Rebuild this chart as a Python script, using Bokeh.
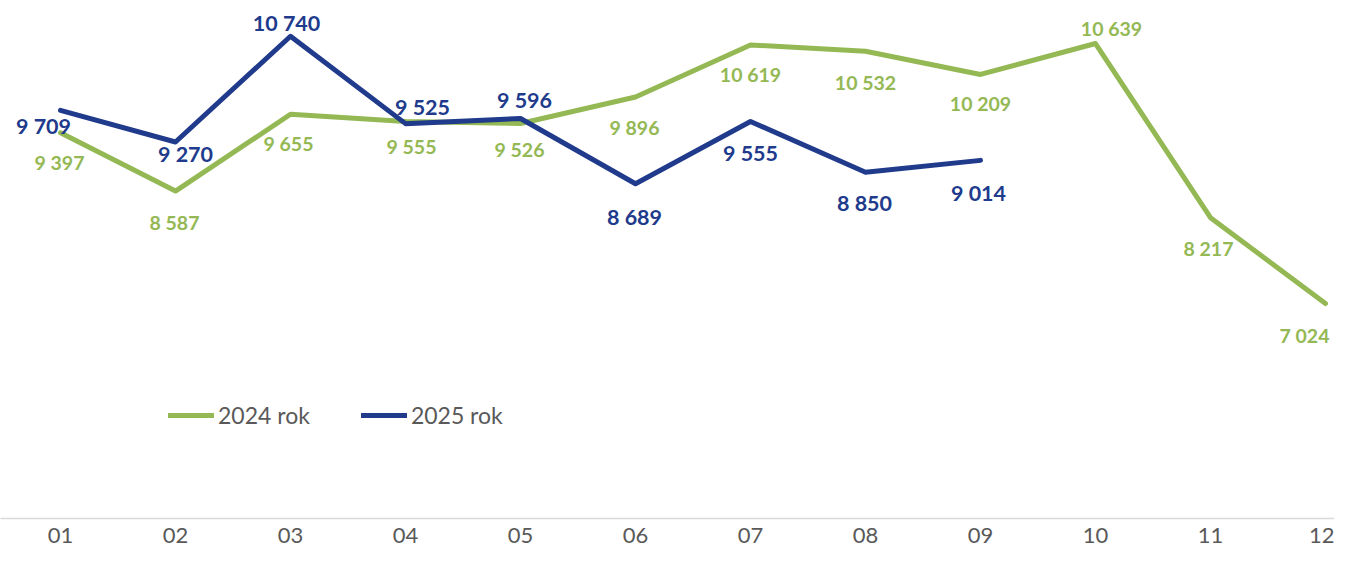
from bokeh.plotting import figure
from bokeh.models import Range1d, FixedTicker, Legend, LegendItem, ColumnDataSource
from bokeh.core.properties import value
from bokeh.embed import file_html
from bokeh.resources import INLINE

# ---- data ----
MONTHS = ["01", "02", "03", "04", "05", "06", "07", "08", "09", "10", "11", "12"]
SERIES_2024 = [9397, 8587, 9655, 9555, 9526, 9896, 10619, 10532, 10209, 10639, 8217, 7024]
SERIES_2025 = [9709, 9270, 10740, 9525, 9596, 8689, 9555, 8850, 9014]
SERIES_NAMES = ["2024 rok", "2025 rok"]

# ---- label placement (screen px offsets) ----
DX_2024 = [-1, -1, -2, 6, -1, -1, 0, 0, 0, 16, -2, -21]
DY_2024 = [30, 31, 29, 25, 26, 31, 30, 31, 29, -15, 31, 32]
DX_2025 = [-17, 10, -4, 17, 4, -1, 0, -1, -2]
DY_2025 = [16, 12, -13, -17, -19, 33, 32, 31, 33]

GREEN = "#94B853"
BLUE = "#203A8C"
GREY = "#595959"
FONT = "Lato"


def fmt(v):
    return f"{v:,}".replace(",", " ")


x24 = list(range(1, len(SERIES_2024) + 1))
x25 = list(range(1, len(SERIES_2025) + 1))

src24 = ColumnDataSource(dict(x=x24, y=SERIES_2024, t=[fmt(v) for v in SERIES_2024],
                              dx=DX_2024, dy=DY_2024))
src25 = ColumnDataSource(dict(x=x25, y=SERIES_2025, t=[fmt(v) for v in SERIES_2025],
                              dx=DX_2025, dy=DY_2025))

W, H = 1334, 549
step = 115.0
first = 60.0
frame_h = 518
ppu = 13.904
y_top = 11237

p = figure(width=W, height=H, output_backend="svg", toolbar_location=None,
           x_range=Range1d(1 - first / step, 1 + (W - first) / step),
           y_range=Range1d(y_top - frame_h * ppu, y_top),
           min_border_left=0, min_border_right=0, min_border_top=0,
           min_border_bottom=H - frame_h)
p.outline_line_color = None
p.background_fill_color = "white"
p.border_fill_color = "white"
p.xgrid.visible = False
p.ygrid.visible = False
p.yaxis.visible = False

ax = p.xaxis[0]
ax.ticker = FixedTicker(ticks=x24)
ax.major_label_overrides = {i + 1: m for i, m in enumerate(MONTHS)}
ax.major_tick_line_color = None
ax.minor_tick_line_color = None
ax.axis_line_color = "#D9D9D9"
ax.axis_line_width = 1.5
ax.major_label_text_font = FONT
ax.major_label_text_font_size = "22px"
ax.major_label_text_color = GREY
ax.major_label_standoff = 3

r24 = p.line("x", "y", source=src24, line_color=GREEN, line_width=5,
             line_join="round", line_cap="round")
r25 = p.line("x", "y", source=src25, line_color=BLUE, line_width=5,
             line_join="round", line_cap="round")

p.text("x", "y", text="t", source=src24, x_offset="dx", y_offset="dy",
       text_font=value(FONT), text_font_style="bold", text_font_size="19.5px",
       text_color=GREEN, text_align="center", text_baseline="middle")
p.text("x", "y", text="t", source=src25, x_offset="dx", y_offset="dy",
       text_font=value(FONT), text_font_style="bold", text_font_size="21.5px",
       text_color=BLUE, text_align="center", text_baseline="middle")

legend = Legend(items=[LegendItem(label=SERIES_NAMES[0], renderers=[r24]),
                       LegendItem(label=SERIES_NAMES[1], renderers=[r25])],
                orientation="horizontal", location=(168, 89),
                padding=0, margin=0, spacing=51,
                glyph_width=46, glyph_height=20, label_standoff=4,
                label_height=20,
                label_text_font=FONT, label_text_font_size="23px",
                label_text_color=GREY,
                border_line_color=None, background_fill_alpha=0)
p.add_layout(legend, "center")

open("out.html", "w").write(file_html(p, INLINE))
